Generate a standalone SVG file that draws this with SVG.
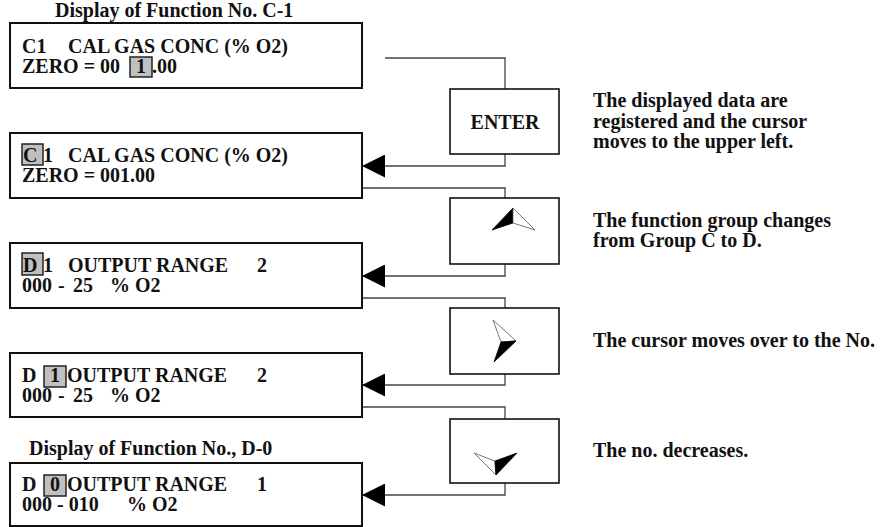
<svg xmlns="http://www.w3.org/2000/svg" width="883" height="527" viewBox="0 0 883 527">
<style>
text{font-family:"Liberation Serif","Times New Roman",serif;font-weight:bold;font-size:20px;fill:#111}
.disp{fill:#fff;stroke:#111;stroke-width:2}
.key{fill:#fff;stroke:#111;stroke-width:1.6}
.hl{fill:#c0c0c0;stroke:#222;stroke-width:1.5}
.conn{fill:none;stroke:#444;stroke-width:1.3}
.blk{fill:#000;stroke:#000;stroke-width:0.8}
.wht{fill:#fff;stroke:#555;stroke-width:0.8}
</style>
<defs>
<marker id="ah" viewBox="0 0 23 23" markerWidth="23" markerHeight="23" refX="23" refY="11.5" orient="auto" markerUnits="userSpaceOnUse">
<path d="M0,0 L23,11.5 L0,23 z" fill="#000"/>
</marker>
</defs>
<g id="connectors">
<path class="conn" d="M385,58 H505 V89"/>
<path class="conn" d="M505,154 V166 H362" marker-end="url(#ah)"/>
<path class="conn" d="M362,188 H505 V198"/>
<path class="conn" d="M505,264 V276 H362" marker-end="url(#ah)"/>
<path class="conn" d="M362,298 H505 V308"/>
<path class="conn" d="M505,374 V385 H362" marker-end="url(#ah)"/>
<path class="conn" d="M362,407 H505 V419"/>
<path class="conn" d="M505,483 V495 H362" marker-end="url(#ah)"/>
</g>
<g id="display1">
<text x="55" y="17">Display of Function No. C-1</text>
<rect class="disp" x="10" y="23" width="352" height="65"/>
<rect class="hl" x="130" y="57" width="22" height="20"/>
<text y="53"><tspan x="22">C1</tspan><tspan x="68">CAL GAS CONC (% O2)</tspan></text>
<text y="73"><tspan x="22">ZERO = 00</tspan><tspan x="141" text-anchor="middle">1</tspan><tspan x="152">.00</tspan></text>
</g>
<g id="display2">
<rect class="disp" x="10" y="133" width="352" height="65"/>
<rect class="hl" x="22" y="144" width="21" height="21"/>
<text y="162"><tspan x="23">C</tspan><tspan x="43">1</tspan><tspan x="68">CAL GAS CONC (% O2)</tspan></text>
<text x="22" y="182">ZERO = 001.00</text>
</g>
<g id="display3">
<rect class="disp" x="10" y="243" width="352" height="65"/>
<rect class="hl" x="22" y="253" width="21" height="22"/>
<text y="272"><tspan x="23">D</tspan><tspan x="43">1</tspan><tspan x="68">OUTPUT RANGE</tspan><tspan x="257">2</tspan></text>
<text y="292"><tspan x="22">000</tspan><tspan x="58">-</tspan><tspan x="73">25</tspan><tspan x="110">% O2</tspan></text>
</g>
<g id="display4">
<rect class="disp" x="10" y="353" width="352" height="64"/>
<rect class="hl" x="44" y="366" width="22" height="21"/>
<text y="382"><tspan x="22">D</tspan><tspan x="55" text-anchor="middle">1</tspan><tspan x="67">OUTPUT RANGE</tspan><tspan x="257">2</tspan></text>
<text y="402"><tspan x="22">000</tspan><tspan x="58">-</tspan><tspan x="73">25</tspan><tspan x="110">% O2</tspan></text>
</g>
<g id="display5">
<text x="29" y="455">Display of Function No., D-0</text>
<rect class="disp" x="10" y="463" width="352" height="63"/>
<rect class="hl" x="44" y="475" width="22" height="21"/>
<text y="491"><tspan x="22">D</tspan><tspan x="55" text-anchor="middle">0</tspan><tspan x="67">OUTPUT RANGE</tspan><tspan x="257">1</tspan></text>
<text y="511"><tspan x="22">000 - 010</tspan><tspan x="127">% O2</tspan></text>
</g>
<g id="key-enter">
<rect class="key" x="450" y="89" width="109" height="65"/>
<text x="505" y="129" text-anchor="middle">ENTER</text>
</g>
<g id="key-up">
<rect class="key" x="450" y="198" width="109" height="66"/>
<polygon class="blk" points="513,208 492,230 513,223"/>
<polygon class="wht" points="513,208 513,223 535,230"/>
</g>
<g id="key-right">
<rect class="key" x="450" y="308" width="109" height="66"/>
<polygon class="wht" points="493,320 516,341 501,342"/>
<polygon class="blk" points="501,342 516,341 494,362"/>
</g>
<g id="key-down">
<rect class="key" x="450" y="419" width="109" height="64"/>
<polygon class="wht" points="474,453 495,461 496,475"/>
<polygon class="blk" points="495,461 517,453 496,475"/>
</g>
<g id="notes">
<text x="593" y="107">The displayed data are</text>
<text x="593" y="128">registered and the cursor</text>
<text x="593" y="148">moves to the upper left.</text>
<text x="593" y="227">The function group changes</text>
<text x="593" y="247">from Group C to D.</text>
<text x="593" y="347">The cursor moves over to the No.</text>
<text x="593" y="457">The no. decreases.</text>
</g>
</svg>
